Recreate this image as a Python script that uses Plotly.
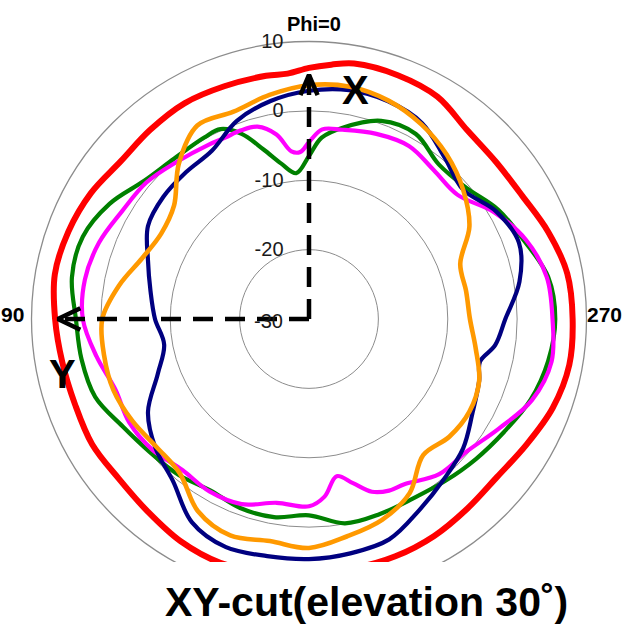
import plotly.graph_objects as go

# ---------------- data (dB vs Phi, degrees) ----------------
red_theta = [0, 5, 10, 20, 30, 40, 50, 60, 70, 80, 90, 100, 110, 120, 130, 140, 150, 160, 170, 180,
             190, 200, 210, 220, 230, 240, 250, 260, 270, 280, 290, 300, 310, 320, 330, 340, 350, 355]
red_r = [6.2, 5.5, 5.6, 5.7, 5.9, 5.6, 5.4, 6.3, 6.9, 7.2, 6.6, 6.1, 5.9, 6.1, 5.8, 6.2, 7.0, 7.4, 7.0, 6.6,
         6.5, 6.4, 6.1, 5.6, 5.4, 6.2, 7.4, 8.1, 8.0, 7.8, 6.7, 5.5, 5.2, 5.5, 7.0, 7.4, 7.4, 6.8]

orange_theta = [0, 10, 20, 30, 40, 50, 60, 70, 80, 90, 100, 110, 120, 130, 140, 150, 160, 170, 180,
                190, 200, 210, 220, 230, 240, 250, 260, 270, 280, 290, 300, 310, 320, 330, 340, 350]
orange_r = [3.7, 2.8, 1.8, 2.2, -0.8, -4.6, -5.4, -4.4, -2.2, -0.2, 0.0, 0.0, -0.6, -1.3, -1.0, 2.0, 3.2, 2.5, 3.0,
            1.8, 0.8, -1.0, -4.4, -3.6, -3.3, -3.9, -5.6, -6.8, -7.0, -6.8, -3.3, -1.0, 0.9, 2.4, 3.5, 4.0]

navy_theta = [0, 10, 20, 30, 40, 50, 60, 70, 80, 90, 100, 110, 120, 130, 140, 150, 160, 170, 180,
              190, 200, 210, 220, 230, 240, 250, 256, 262, 270, 280, 290, 300, 310, 320, 330, 340, 350]
navy_r = [2.9, 1.9, 0.4, -2.0, -2.4, -2.6, -3.2, -5.3, -6.8, -7.8, -8.8, -6.8, -3.2, -1.1, 0.5, 3.8, 5.0, 4.7, 4.6,
          4.3, 3.8, 1.8, 0.2, -1.0, -2.8, -3.9, -4.6, -2.9, -1.7, 0.8, 2.2, 1.1, -1.0, 0.4, 2.6, 3.4, 3.5]

green_theta = [0, 5, 10, 15, 20, 25, 30, 40, 50, 60, 70, 80, 90, 100, 110, 120, 130, 140, 150, 160, 170, 180,
               190, 200, 210, 220, 230, 240, 250, 260, 270, 280, 290, 300, 310, 320, 330, 340, 350, 356]
green_r = [-6.5, -8.9, -7.3, -4.7, -1.6, 0.2, 0.2, 0.2, 1.0, 3.2, 4.7, 4.7, 3.6, 3.3, 2.8, 1.0, -0.1, -0.7, -1.5, -1.0, -1.0, -1.7,
           -0.1, -0.1, -0.1, 0.5, 1.4, 2.5, 4.0, 5.0, 5.5, 5.0, 3.0, 1.5, -0.5, -0.9, 0.8, 0.4, -2.0, -3.8]

magenta_theta = [0, 3, 6, 10, 15, 20, 25, 30, 40, 50, 60, 70, 80, 90, 100, 110, 120, 130, 140, 150, 160, 170,
                 180, 185, 190, 195, 200, 205, 210, 220, 230, 240, 250, 260, 270, 280, 290, 300, 310, 320,
                 330, 340, 350, 356]
magenta_r = [-4.5, -5.9, -5.7, -3.0, -1.3, -1.1, -1.2, -1.0, -0.4, 0.6, 1.1, 2.2, 2.8, 2.6, 1.1, -0.3, -0.1, -0.6, -1.6, -1.3, -1.6, -3.1,
             -3.0, -4.3, -7.0, -5.5, -3.5, -2.7, -2.5, -0.8, -0.3, 1.6, 4.2, 5.5, 5.1, 4.8, 3.3, 0.8, -2.1, -2.0,
             -1.2, -1.6, -2.3, -2.6]

radial_ticks = [-20, -10, 0, 10]
radial_ticktext = ["-20", "-10", "0", "10"]
center_label = "-30"
radial_range = [-30, 10]

# axis arrows (data units: dB, degrees)
x_arrow_r = [-30, 5.2]
x_head_r = [2.3, 5.2, 2.3]
x_head_theta = [2.2, 0, -2.2]
y_arrow_r = [-30, 6.2]
y_head_r = [3.0, 6.2, 3.0]
y_head_theta = [92.7, 90, 87.3]

series = [
    ("green", green_theta, green_r, "#008000", 4.2),
    ("magenta", magenta_theta, magenta_r, "#FF00FF", 4.2),
    ("navy", navy_theta, navy_r, "#000080", 4.2),
    ("orange", orange_theta, orange_r, "#FF9900", 4.6),
    ("red", red_theta, red_r, "#FF0000", 6),
]

fig = go.Figure()
for name, th, rr, col, w in series:
    fig.add_trace(go.Scatterpolar(
        r=rr + [rr[0]], theta=th + [th[0] + 360], mode="lines", name=name,
        line=dict(color=col, width=w, shape="spline", smoothing=1.0),
        showlegend=False, hoverinfo="skip"))

# dashed axis arrows
fig.add_trace(go.Scatterpolar(r=x_arrow_r, theta=[0, 0], mode="lines",
                              line=dict(color="black", width=4.5, dash="20px,12px"),
                              showlegend=False, hoverinfo="skip"))
fig.add_trace(go.Scatterpolar(r=y_arrow_r, theta=[90, 90], mode="lines",
                              line=dict(color="black", width=4.5, dash="20px,12px"),
                              showlegend=False, hoverinfo="skip"))
fig.add_trace(go.Scatterpolar(r=x_head_r, theta=x_head_theta, mode="lines",
                              line=dict(color="black", width=4.5),
                              showlegend=False, hoverinfo="skip"))
fig.add_trace(go.Scatterpolar(r=y_head_r, theta=y_head_theta, mode="lines",
                              line=dict(color="black", width=4.5),
                              showlegend=False, hoverinfo="skip"))

W, H = 630, 629
cx, cy, R = 309, 319, 277.5
fig.update_layout(
    width=W, height=H,
    margin=dict(l=0, r=0, t=0, b=0),
    paper_bgcolor="white",
    showlegend=False,
    polar=dict(
        domain=dict(x=[(cx - R) / W, (cx + R) / W], y=[1 - (cy + R) / H, 1 - (cy - R) / H]),
        bgcolor="white",
        radialaxis=dict(range=radial_range, tickvals=radial_ticks, ticktext=radial_ticktext,
                        angle=90, tickangle=90,
                        side="counterclockwise", showline=False, ticks="outside", ticklen=18,
                        tickcolor="rgba(0,0,0,0)",
                        gridcolor="#8c8c8c", gridwidth=1.3,
                        tickfont=dict(family="Liberation Sans, Arial", size=20, color="#1a1a1a")),
        angularaxis=dict(rotation=90, direction="counterclockwise", showgrid=False,
                         showticklabels=False, ticks="", showline=True,
                         linecolor="#8c8c8c", linewidth=1.3),
    ),
    shapes=[dict(type="rect", xref="paper", yref="paper", x0=0, x1=1, y0=0, y1=1 - 562 / H,
                 fillcolor="white", line=dict(width=0), layer="above")],
)

bold = "Liberation Sans, Arial"
def ann(text, x, y, size):
    fig.add_annotation(text=f"<b>{text}</b>", x=x / W, y=1 - y / H, xref="paper", yref="paper",
                       showarrow=False, xanchor="center", yanchor="middle",
                       font=dict(family=bold, size=size, color="black"))

ann("Phi=0", 314, 24, 20)
ann("90", 12, 315, 21)
ann("270", 604, 315, 21)
ann("X", 355, 90, 40)
ann("Y", 62, 374, 40)
ann("XY-cut(elevation 30˚)", 366, 602, 41)
fig.add_annotation(text=center_label, x=285 / W, y=1 - 321 / H, xref="paper", yref="paper",
                   showarrow=False, xanchor="right", yanchor="middle",
                   font=dict(family="Liberation Sans, Arial", size=20, color="#1a1a1a"))

fig.write_html("out.html", config={"displayModeBar": False},
               post_script="document.body.style.margin='0px';")
